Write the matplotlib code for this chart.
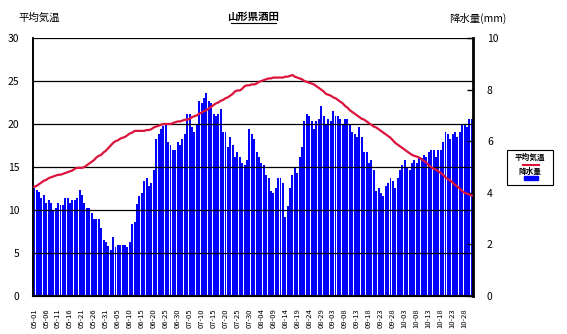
import numpy as np
import matplotlib
matplotlib.use("Agg")
import matplotlib.pyplot as plt
from matplotlib.patches import Rectangle
from matplotlib.lines import Line2D

plt.rcParams['font.family'] = ['Noto Sans CJK JP', 'DejaVu Sans']

# 日付ラベル (5日おき, 05-01 〜 10-28)
tick_labels = ['05-01', '05-06', '05-11', '05-16', '05-21', '05-26', '05-31',
               '06-05', '06-10', '06-15', '06-20', '06-25', '06-30',
               '07-05', '07-10', '07-15', '07-20', '07-25', '07-30',
               '08-04', '08-09', '08-14', '08-19', '08-24', '08-29',
               '09-03', '09-08', '09-13', '09-18', '09-23', '09-28',
               '10-03', '10-08', '10-13', '10-18', '10-23', '10-28']

# 平均気温 (℃) 5/1〜10/31
temp = [12.7, 12.8, 13.0, 13.2, 13.4, 13.5, 13.7, 13.8, 13.9, 14.0,
        14.1, 14.1, 14.2, 14.3, 14.4, 14.5, 14.6, 14.8, 14.9, 14.9,
        14.9, 15.0, 15.2, 15.4, 15.6, 15.8, 16.1, 16.3, 16.4, 16.7,
        16.9, 17.2, 17.5, 17.8, 18.0, 18.1, 18.3, 18.4, 18.5, 18.7,
        18.9, 19.0, 19.2, 19.2, 19.2, 19.2, 19.2, 19.3, 19.3, 19.4,
        19.6, 19.7, 19.8, 19.9, 20.0, 20.0, 20.0, 20.0, 20.1, 20.2,
        20.3, 20.3, 20.4, 20.5, 20.5, 20.6, 20.8, 20.9, 21.0, 21.2,
        21.3, 21.5, 21.6, 21.8, 22.0, 22.2, 22.4, 22.5, 22.7, 22.8,
        23.0, 23.1, 23.3, 23.5, 23.8, 23.9, 23.9, 24.1, 24.4, 24.5,
        24.5, 24.6, 24.6, 24.7, 24.9, 25.0, 25.1, 25.2, 25.3, 25.3,
        25.4, 25.4, 25.4, 25.4, 25.4, 25.5, 25.5, 25.6, 25.7, 25.5,
        25.4, 25.3, 25.2, 25.0, 24.9, 24.8, 24.7, 24.6, 24.4, 24.2,
        24.0, 23.8, 23.5, 23.4, 23.3, 23.1, 23.0, 22.8, 22.6, 22.4,
        22.1, 21.9, 21.6, 21.4, 21.2, 21.0, 20.8, 20.6, 20.5, 20.3,
        20.1, 19.9, 19.7, 19.6, 19.4, 19.2, 19.0, 18.8, 18.6, 18.4,
        18.1, 17.8, 17.6, 17.4, 17.2, 17.0, 16.8, 16.6, 16.4, 16.3,
        16.2, 16.1, 15.9, 15.7, 15.5, 15.2, 15.0, 14.8, 14.7, 14.5,
        14.3, 14.1, 13.8, 13.6, 13.4, 13.2, 12.9, 12.7, 12.5, 12.2,
        12.0, 11.9, 11.8, 11.7]

# 降水量 (mm)
rain = [4.17, 4.10, 4.02, 3.79, 3.90, 3.60, 3.71, 3.60, 3.33, 3.41,
        3.60, 3.52, 3.52, 3.79, 3.79, 3.60, 3.71, 3.71, 3.79, 4.10,
        3.90, 3.60, 3.40, 3.40, 3.20, 3.00, 3.00, 3.00, 2.62, 2.16,
        2.08, 1.95, 1.78, 2.29, 1.91, 1.98, 1.98, 1.98, 1.98, 1.91,
        2.09, 2.79, 2.88, 3.57, 3.88, 3.98, 4.46, 4.57, 4.26, 4.37,
        4.88, 6.07, 6.28, 6.46, 6.60, 6.67, 5.98, 5.85, 5.66, 5.66,
        5.97, 5.85, 6.09, 6.28, 7.05, 7.05, 6.55, 6.36, 6.67, 7.56,
        7.48, 7.67, 7.87, 7.56, 7.48, 7.05, 6.98, 7.05, 7.25, 6.36,
        6.36, 5.78, 6.16, 5.85, 5.39, 5.58, 5.39, 5.16, 5.08, 5.27,
        6.47, 6.28, 6.09, 5.58, 5.39, 5.16, 5.08, 4.69, 4.57, 4.07,
        3.99, 4.19, 4.57, 4.57, 4.38, 3.06, 3.49, 4.19, 4.69, 4.96,
        4.77, 5.39, 5.78, 6.78, 7.05, 6.98, 6.78, 6.47, 6.78, 6.86,
        7.36, 6.98, 6.67, 6.86, 6.78, 7.17, 6.98, 6.98, 6.86, 6.67,
        6.86, 6.86, 6.67, 6.36, 6.28, 6.16, 6.55, 6.16, 5.58, 5.58,
        5.16, 5.27, 4.88, 4.07, 4.19, 3.99, 3.88, 4.26, 4.38, 4.57,
        4.46, 4.19, 4.57, 4.88, 5.08, 5.27, 4.96, 4.88, 5.16, 5.27,
        5.16, 5.35, 5.35, 5.47, 5.39, 5.58, 5.66, 5.66, 5.39, 5.66,
        5.66, 5.97, 6.36, 6.28, 6.09, 6.28, 6.36, 6.16, 6.36, 6.67,
        6.67, 6.55, 6.86, 6.86]

days = np.arange(len(rain))
red = '#dc143c'
blue = '#0000ff'

fig = plt.figure(figsize=(5.67, 3.34), dpi=100)
ax = fig.add_axes([33 / 567, 38 / 334, 440 / 567, 258 / 334])
ax2 = ax.twinx()

# 降水量の棒 (右軸)
ax2.bar(days, rain, width=0.82, color=blue, linewidth=0)
ax2.set_ylim(0, 10)
ax2.set_yticks([0, 2, 4, 6, 8, 10])
ax2.tick_params(axis='y', direction='in', length=4, width=1, labelsize=7.5, pad=10)

# 気温の線と目盛線 (左軸)
ax.set_zorder(ax2.get_zorder() + 1)
ax.patch.set_visible(False)
for v in [5, 10, 15, 20, 25, 30]:
    ax.axhline(v, color='black', linewidth=0.9, zorder=1)
ax.plot(days, temp, color=red, linewidth=1.6, zorder=3)
ax.set_ylim(0, 30)
ax.set_yticks([0, 5, 10, 15, 20, 25, 30])
ax.tick_params(axis='y', length=0, labelsize=7.5, pad=10)
ax.set_xlim(-0.5, len(rain) - 0.5)
ax.set_xticks(days[::5])
ax.set_xticklabels(tick_labels, rotation=90, fontsize=5.5)
ax.tick_params(axis='x', length=0, pad=9)

for a in (ax, ax2):
    a.spines['top'].set_visible(False)
    a.spines['left'].set_linewidth(1.2)
    a.spines['bottom'].set_linewidth(1.5)
ax2.spines['right'].set_linewidth(2.0)
ax.spines['right'].set_visible(False)

fig.text(18 / 567, 1 - 18 / 334, '平均気温', fontsize=7.5, va='center', ha='left')
fig.text(253 / 567, 1 - 17 / 334, '山形県酒田', fontsize=7.5, fontweight='bold',
         va='center', ha='center')
fig.add_artist(Line2D([231 / 567, 276 / 567], [1 - 23 / 334, 1 - 23 / 334],
                      color='black', linewidth=0.8))
fig.text(449 / 567, 1 - 18 / 334, '降水量(mm)', fontsize=7.5, va='center', ha='left')

# 凡例
fig.add_artist(Rectangle((507 / 567, 1 - 185 / 334), 46 / 567, 35 / 334,
                         transform=fig.transFigure, fill=False,
                         edgecolor='black', linewidth=0.8))
fig.text(530 / 567, 1 - 157 / 334, '平均気温', fontsize=5.5, fontweight='bold',
         ha='center', va='center')
fig.add_artist(Line2D([523 / 567, 539 / 567], [1 - 165 / 334, 1 - 165 / 334],
                      color=red, linewidth=1.5))
fig.text(530 / 567, 1 - 171 / 334, '降水量', fontsize=5.5, fontweight='bold',
         ha='center', va='center')
fig.add_artist(Rectangle((524 / 567, 1 - 180 / 334), 14 / 567, 4 / 334,
                         transform=fig.transFigure, color=blue))

fig.savefig('out.png', dpi=100)
